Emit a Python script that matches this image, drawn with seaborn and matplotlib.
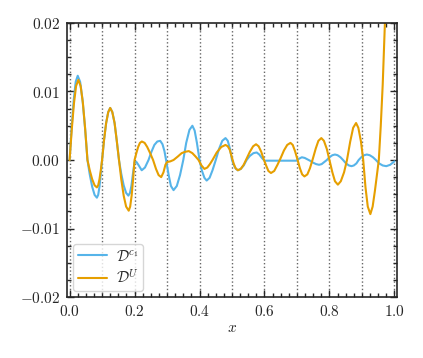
import matplotlib
matplotlib.use("Agg")
import matplotlib.pyplot as plt
import seaborn as sns
import pandas as pd
from matplotlib.ticker import MultipleLocator

# ---- data ----
x_c1 = [0, 0.00625, 0.0125, 0.01875, 0.025, 0.0325, 0.040, 0.0475, 0.055, 0.062, 0.0695, 0.077,
        0.084, 0.088, 0.092, 0.096, 0.100, 0.106, 0.1125, 0.119, 0.125, 0.1315, 0.1385, 0.145,
        0.152, 0.159, 0.1665, 0.174, 0.181, 0.186, 0.1905, 0.195, 0.200, 0.206, 0.213, 0.222,
        0.232, 0.243, 0.252, 0.261, 0.270, 0.279, 0.286, 0.292, 0.297, 0.305, 0.312, 0.320,
        0.330, 0.340, 0.350, 0.359, 0.369, 0.378, 0.385, 0.392, 0.400, 0.407, 0.415, 0.422,
        0.431, 0.440, 0.450, 0.460, 0.470, 0.480, 0.487, 0.494, 0.500, 0.506, 0.512, 0.518,
        0.527, 0.536, 0.545, 0.555, 0.566, 0.576, 0.584, 0.592, 0.600, 0.625, 0.650, 0.675,
        0.698, 0.707, 0.715, 0.724, 0.732, 0.740, 0.750, 0.759, 0.768, 0.776, 0.784, 0.792,
        0.800, 0.809, 0.817, 0.825, 0.834, 0.842, 0.851, 0.860, 0.868, 0.875, 0.883, 0.890,
        0.898, 0.907, 0.915, 0.924, 0.934, 0.943, 0.953, 0.964, 0.975, 0.987, 1.0]
y_c1 = [0, 0.0047, 0.0087, 0.0114, 0.0123, 0.0114, 0.0087, 0.0047, 0.0, -0.0021, -0.0039, -0.0051,
        -0.0055, -0.0051, -0.0039, -0.0021, 0.0, 0.0029, 0.0054, 0.0070, 0.0076, 0.0070, 0.0054, 0.0029,
        0.0, -0.0020, -0.0037, -0.0048, -0.0052, -0.0048, -0.0037, -0.0020, -0.0003, -0.0003, -0.0008, -0.0015,
        -0.0011, 0.0, 0.0012, 0.0022, 0.0027, 0.0028, 0.0023, 0.0013, 0.0, -0.0022, -0.0038, -0.0044,
        -0.0038, -0.0022, 0.0, 0.0025, 0.0044, 0.0050, 0.0043, 0.0025, 0.0, -0.0015, -0.0026, -0.0030,
        -0.0026, -0.0015, 0.0, 0.0016, 0.0028, 0.0032, 0.0028, 0.0016, 0.0, -0.0008, -0.0013, -0.0015,
        -0.0013, -0.0008, 0.0, 0.0006, 0.0010, 0.0011, 0.0008, 0.0003, -0.0001, -0.0001, -0.0001, -0.0001,
        -0.0001, 0.0002, 0.0004, 0.0003, 0.0001, -0.0001, -0.0004, -0.0006, -0.0007, -0.0006, -0.0003, 0.0,
        0.0004, 0.0007, 0.0008, 0.0007, 0.0004, 0.0, -0.0005, -0.0008, -0.0009, -0.0008, -0.0005, 0.0,
        0.0004, 0.0007, 0.0008, 0.0007, 0.0004, 0.0, -0.0005, -0.0008, -0.0009, -0.0007, -0.0002]

x_u = [0, 0.00675, 0.0135, 0.020, 0.027, 0.034, 0.041, 0.048, 0.055, 0.062, 0.0695, 0.077,
       0.084, 0.088, 0.092, 0.096, 0.100, 0.106, 0.1125, 0.119, 0.125, 0.1315, 0.1385, 0.145,
       0.152, 0.159, 0.1665, 0.174, 0.182, 0.1865, 0.191, 0.1955, 0.200, 0.2055, 0.211, 0.2165,
       0.2225, 0.231, 0.239, 0.248, 0.257, 0.266, 0.274, 0.282, 0.289, 0.295, 0.300, 0.310,
       0.320, 0.333, 0.345, 0.356, 0.367, 0.378, 0.388, 0.397, 0.406, 0.415, 0.424, 0.432,
       0.440, 0.453, 0.467, 0.480, 0.487, 0.493, 0.499, 0.505, 0.511, 0.518, 0.527, 0.536,
       0.545, 0.555, 0.565, 0.574, 0.582, 0.590, 0.597, 0.605, 0.612, 0.620, 0.630, 0.640,
       0.650, 0.660, 0.670, 0.680, 0.687, 0.694, 0.702, 0.709, 0.716, 0.723, 0.732, 0.740,
       0.749, 0.758, 0.766, 0.775, 0.783, 0.792, 0.800, 0.809, 0.817, 0.826, 0.835, 0.845,
       0.854, 0.864, 0.873, 0.882, 0.889, 0.897, 0.904, 0.911, 0.918, 0.926, 0.933, 0.940,
       0.946, 0.952, 0.958, 0.964, 0.971, 0.980, 0.990, 1.0]
y_u = [0, 0.0045, 0.0083, 0.0108, 0.0117, 0.0108, 0.0083, 0.0045, 0.0, -0.0015, -0.0028, -0.0037,
       -0.0040, -0.0037, -0.0028, -0.0015, 0.0, 0.0029, 0.0054, 0.0070, 0.0076, 0.0070, 0.0054, 0.0029,
       0.0, -0.0028, -0.0052, -0.0068, -0.0074, -0.0068, -0.0052, -0.0028, 0.0, 0.0010, 0.0019, 0.0025,
       0.0027, 0.0025, 0.0019, 0.0010, 0.0, -0.0013, -0.0022, -0.0025, -0.0018, -0.0007, -0.0003, -0.0002,
       0.0, 0.0005, 0.0010, 0.0012, 0.0013, 0.0010, 0.0005, 0.0, -0.0008, -0.0013, -0.0011, -0.0006,
       0.0, 0.0011, 0.0019, 0.0022, 0.0020, 0.0015, 0.0005, -0.0005, -0.0012, -0.0015, -0.0013, -0.0007,
       0.0002, 0.0012, 0.0020, 0.0023, 0.0020, 0.0012, 0.0002, -0.0008, -0.0016, -0.0019, -0.0016, -0.0007,
       0.0003, 0.0014, 0.0022, 0.0025, 0.0022, 0.0013, 0.0, -0.0012, -0.0021, -0.0024, -0.0021, -0.0012,
       0.0002, 0.0017, 0.0028, 0.0032, 0.0028, 0.0016, 0.0, -0.0018, -0.0031, -0.0036, -0.0031, -0.0018,
       0.0, 0.0027, 0.0047, 0.0054, 0.0047, 0.0027, 0.0, -0.0040, -0.0068, -0.0079, -0.0068, -0.0045,
       -0.0022, 0.0, 0.0050, 0.0110, 0.0200, 0.0330, 0.0480, 0.0650]

labels = [r"$\mathcal{D}^{c_1}$", r"$\mathcal{D}^{U}$"]
colors = ["#56B4E9", "#E69F00"]
vlines = [0.0, 0.1, 0.2, 0.3, 0.4, 0.5, 0.6, 0.7, 0.8, 0.9, 1.0]
x_label = r"$x$"

# ---- styling ----
sns.set_style("ticks")
plt.rcParams.update({
    "font.family": "serif",
    "font.serif": ["cmr10"],
    "mathtext.fontset": "cm",
    "axes.formatter.use_mathtext": True,
    "font.size": 11,
    "axes.linewidth": 1.2,
})

df = pd.concat([
    pd.DataFrame({"x": x_c1, "y": y_c1, "series": labels[0]}),
    pd.DataFrame({"x": x_u, "y": y_u, "series": labels[1]}),
], ignore_index=True)

fig = plt.figure(figsize=(4.23, 3.58), dpi=100)
ax = fig.add_axes([67 / 423, 1 - 297 / 358, 330 / 423, 274 / 358])

for v in vlines:
    ax.axvline(v, color="0.4", ls=":", lw=1.0, zorder=0)

sns.lineplot(data=df, x="x", y="y", hue="series", palette=dict(zip(labels, colors)),
             estimator=None, sort=False, lw=1.5, ax=ax)

ax.set_xlim(-0.008, 1.008)
ax.set_ylim(-0.02, 0.02)
ax.xaxis.set_major_locator(MultipleLocator(0.2))
ax.xaxis.set_minor_locator(MultipleLocator(0.025))
ax.yaxis.set_major_locator(MultipleLocator(0.01))
ax.yaxis.set_minor_locator(MultipleLocator(0.0025))
ax.tick_params(which="both", direction="in", top=True, right=True, width=1.0)
ax.tick_params(which="major", length=5, pad=5)
ax.tick_params(which="minor", length=3)
ax.set_xlabel(x_label, labelpad=2)
ax.set_ylabel("")

leg = ax.legend(loc="lower left", frameon=True, fancybox=True, fontsize=11,
                handlelength=1.9, handletextpad=0.6, borderpad=0.3, labelspacing=0.3,
                borderaxespad=0.4)
leg.get_frame().set_edgecolor("0.8")

fig.savefig("out.png", dpi=100)
